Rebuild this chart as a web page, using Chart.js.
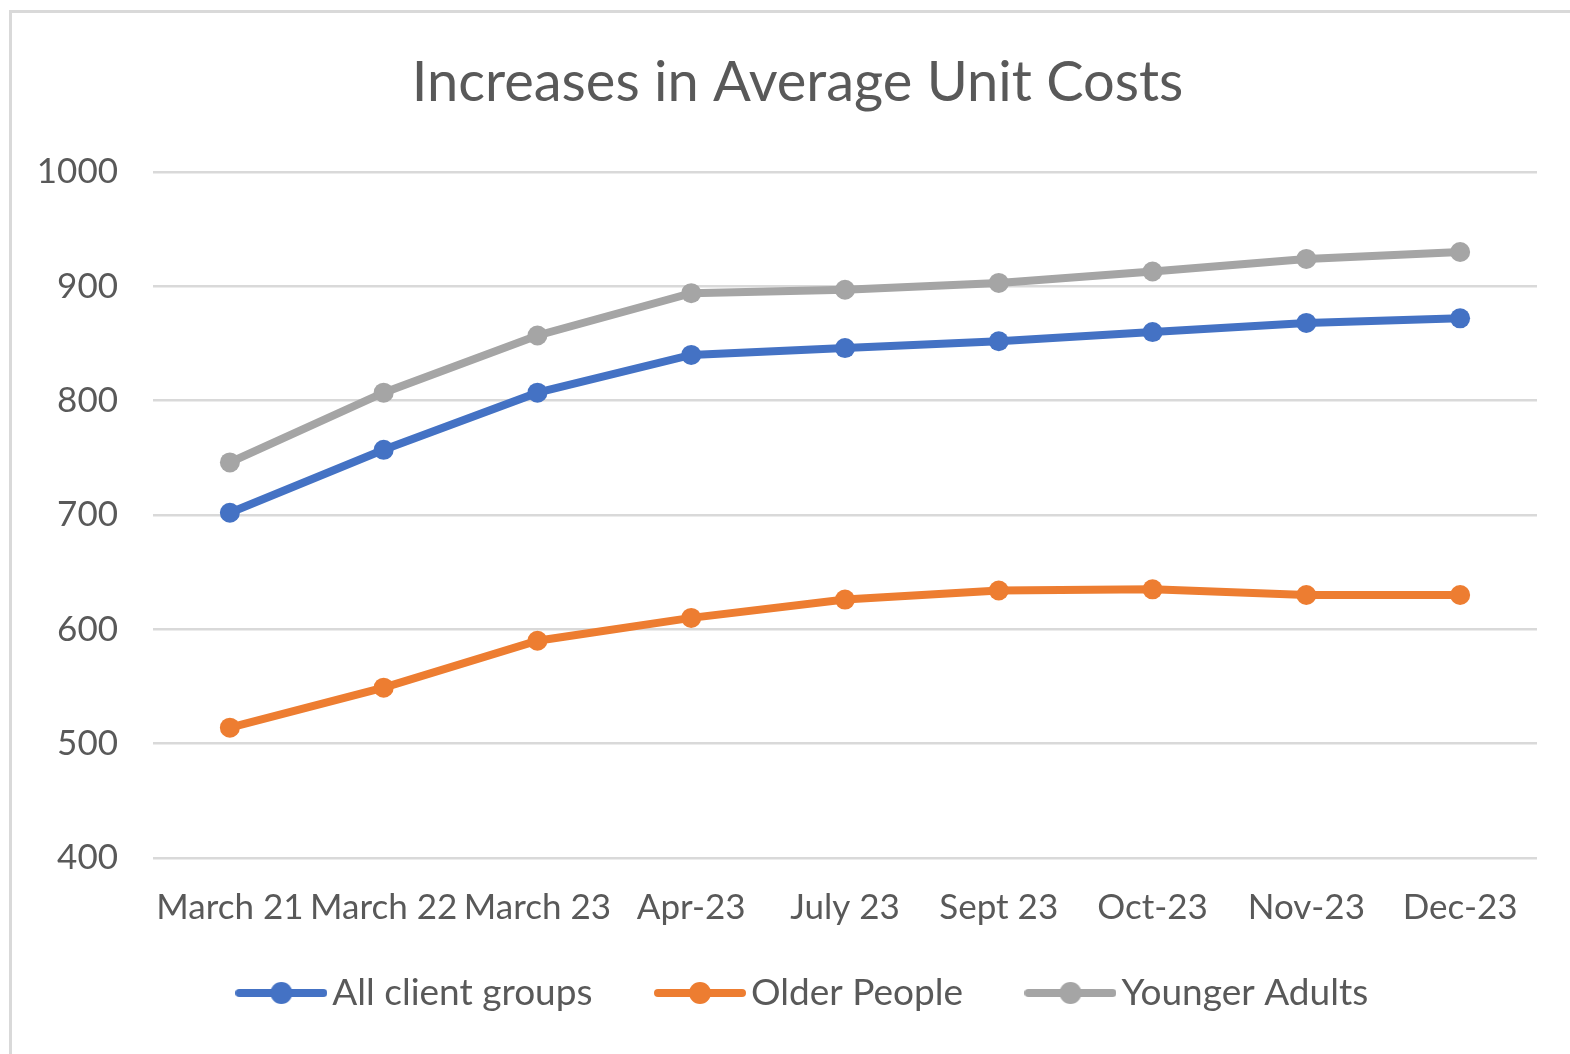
<!DOCTYPE html>
<html>
<head>
<meta charset="utf-8">
<script src="https://cdn.jsdelivr.net/npm/chart.js@4"></script>
<style>
  html, body { margin: 0; padding: 0; background: #fff; }
  #wrap { position: relative; width: 1570px; height: 1054px; }
  #frame {
    position: absolute; left: 9px; top: 10px; right: 0; bottom: 0;
    border-top: 3px solid #d9d9d9; border-left: 3px solid #d9d9d9;
  }
  canvas { position: absolute; left: 0; top: 0; }
</style>
</head>
<body>
<div id="wrap">
  <div id="frame"></div>
  <canvas id="grafico" width="1570" height="1054"></canvas>
</div>
<script>
const categorias = ['March 21', 'March 22', 'March 23', 'Apr-23', 'July 23', 'Sept 23', 'Oct-23', 'Nov-23', 'Dec-23'];
const todosClientes = [702, 757, 807, 840, 846, 852, 860, 868, 872];
const idosos = [514, 549, 590, 610, 626, 634, 635, 630, 630];
const adultosJovens = [746, 807, 857, 894, 897, 903, 913, 924, 930];
const ticksY = [400, 500, 600, 700, 800, 900, 1000];

const corTexto = '#595959';
const fonte = 'Lato';
const tamLegenda = 37;
const padLegenda = 75;

// simbolo da legenda: linha com bolinha no meio
function simbolo(cor) {
  const c = document.createElement('canvas');
  c.width = 92; c.height = 24;
  const g = c.getContext('2d');
  g.strokeStyle = cor;
  g.lineWidth = 8;
  g.lineCap = 'round';
  g.beginPath();
  g.moveTo(4, 12);
  g.lineTo(88, 12);
  g.stroke();
  g.fillStyle = cor;
  g.beginPath();
  g.arc(46, 12, 11, 0, Math.PI * 2);
  g.fill();
  return c;
}

function serie(label, data, cor) {
  return {
    label: label,
    data: data,
    borderColor: cor,
    backgroundColor: cor,
    borderWidth: 8,
    pointRadius: 10,
    pointHoverRadius: 10,
    pointBackgroundColor: cor,
    pointBorderWidth: 0,
    pointStyle: 'circle',
    legendImg: simbolo(cor),
    tension: 0
  };
}

// ajuste fino da posicao do titulo e da legenda
const ajuste = {
  id: 'ajuste',
  afterLayout(chart) {
    const t = chart.titleBlock;
    t.left += 29; t.right += 29;
    const l = chart.legend;
    const dy = (993 - padLegenda - tamLegenda / 2) - l.top;
    l.top += dy; l.bottom += dy;
    l.left += 40; l.right += 40;
  }
};

window.addEventListener('DOMContentLoaded', () => {
  const ctx = document.getElementById('grafico').getContext('2d');
  const datasets = [
    serie('All client groups', todosClientes, '#4472c4'),
    serie('Older People', idosos, '#ed7d31'),
    serie('Younger Adults', adultosJovens, '#a5a5a5')
  ];

  new Chart(ctx, {
    type: 'line',
    data: { labels: categorias, datasets: datasets },
    plugins: [ajuste],
    options: {
      responsive: false,
      animation: false,
      layout: { padding: { left: 0, right: 33, top: 0, bottom: -18 } },
      scales: {
        x: {
          offset: true,
          grid: { display: false },
          border: { display: false },
          ticks: {
            color: corTexto,
            font: { family: fonte, size: 35 },
            padding: 21,
            autoSkip: false,
            maxRotation: 0,
            minRotation: 0
          }
        },
        y: {
          min: 400,
          max: 1000,
          afterBuildTicks: s => { s.ticks = ticksY.map(v => ({ value: v })); },
          grid: { color: '#d9d9d9', lineWidth: 2.5, drawTicks: false },
          border: { display: false },
          ticks: {
            color: corTexto,
            font: { family: fonte, size: 35 },
            padding: 35,
            callback: v => String(v)
          },
          afterFit: s => { s.width = 153; }
        }
      },
      plugins: {
        title: {
          display: true,
          text: 'Increases in Average Unit Costs',
          color: corTexto,
          font: { family: fonte, size: 56, weight: 'normal' },
          padding: { top: 49.4, bottom: 55.4 }
        },
        legend: {
          position: 'bottom',
          labels: {
            color: corTexto,
            font: { family: fonte, size: tamLegenda },
            usePointStyle: true,
            pointStyleWidth: 65,
            boxHeight: 24,
            padding: padLegenda,
            generateLabels: chart => chart.data.datasets.map((d, i) => ({
              text: d.label,
              fontColor: corTexto,
              pointStyle: d.legendImg,
              fillStyle: d.borderColor,
              strokeStyle: d.borderColor,
              lineWidth: 0,
              hidden: false,
              datasetIndex: i
            }))
          }
        },
        tooltip: { enabled: false }
      }
    }
  });
});
</script>
</body>
</html>
